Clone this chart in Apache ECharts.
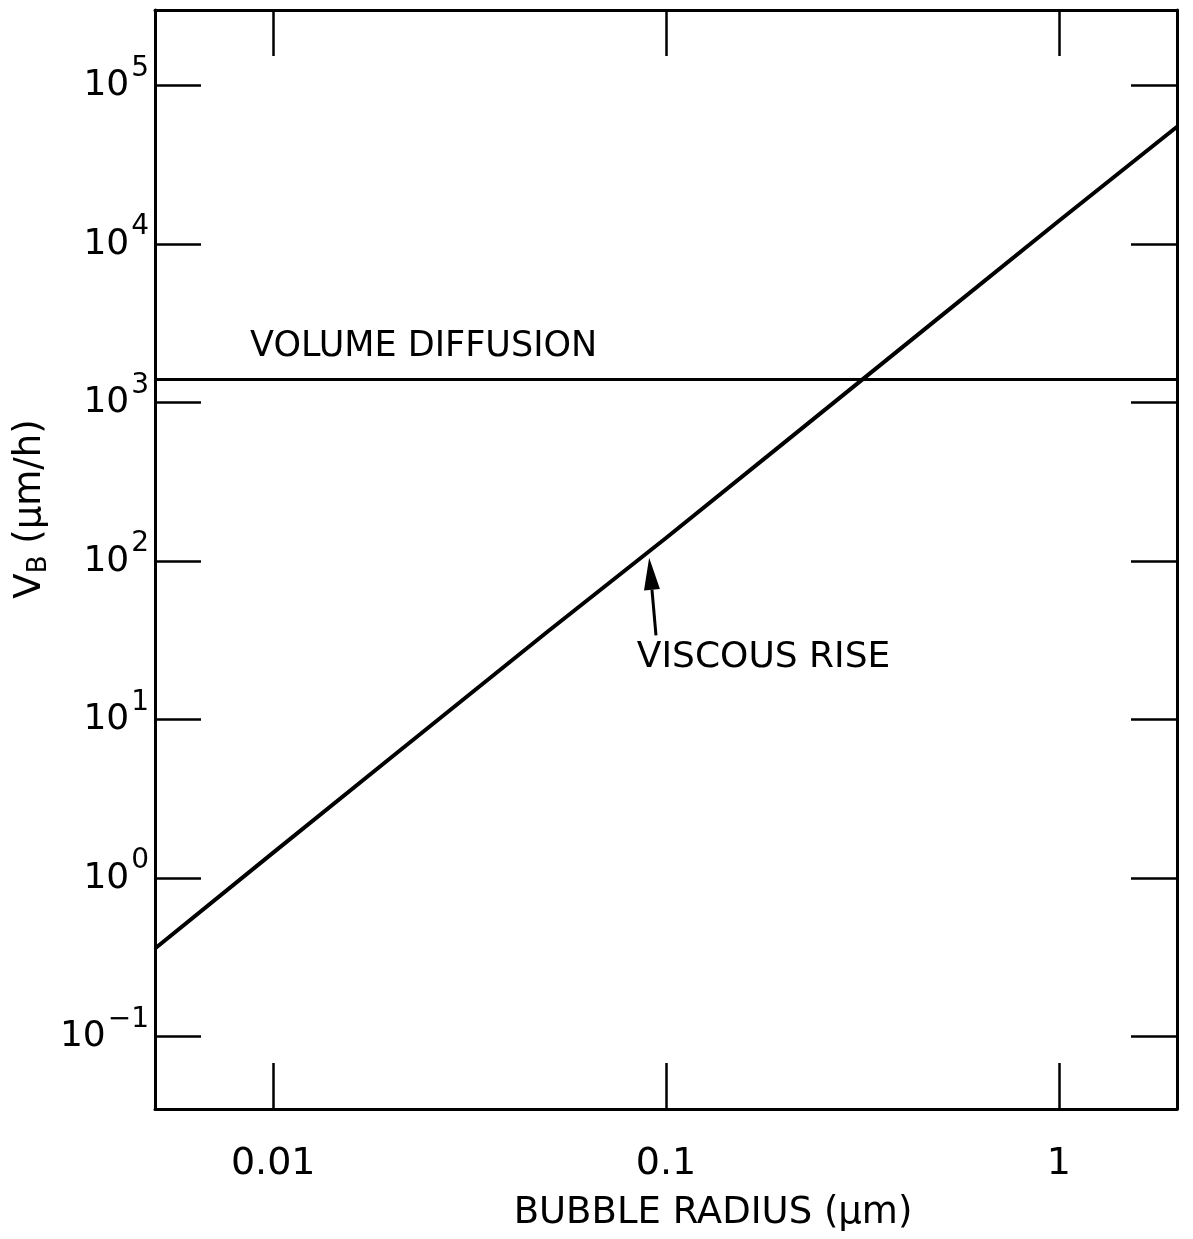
<!DOCTYPE html>
<html>
<head>
<meta charset="utf-8">
<script src="https://cdn.jsdelivr.net/npm/echarts@6/dist/echarts.min.js"></script>
<style>
  html, body { margin: 0; padding: 0; background: #fff; }
  #chart { width: 1193px; height: 1239px; }
</style>
</head>
<body>
<div id="chart"></div>
<script>
// Bubble radius (μm) and the viscous rise velocity V_B (μm/h)
const radius = [0.005, 0.01, 0.02, 0.05, 0.1, 0.2, 0.5, 1, 2];
const viscousRise = [0.36, 1.45, 5.8, 36, 140, 560, 3500, 14000, 55000];

// Volume diffusion: constant over the whole radius range
const diffusionRadius = [0.005, 2];
const volumeDiffusion = [1400, 1400];

// Axis ticks and their labels
const xTicks = [0.01, 0.1, 1];
const xTickLabels = ['0.01', '0.1', '1'];
const yTicks = [0.1, 1, 10, 100, 1000, 10000, 100000];
const yTickExponents = ['\u22121', '0', '1', '2', '3', '4', '5'];

const FONT = 'DejaVu Sans';
const INK = '#000';

function findTick(ticks, v) {
  const lv = Math.log10(v);
  for (let i = 0; i < ticks.length; i++) {
    if (Math.abs(Math.log10(ticks[i]) - lv) < 1e-6) return i;
  }
  return -1;
}

const frameLine = { show: true, onZero: false, lineStyle: { color: INK, width: 3 } };
const innerTick = { show: true, inside: true, length: 46, lineStyle: { color: INK, width: 2.5 } };

const chart = echarts.init(document.getElementById('chart'), null, { renderer: 'canvas' });

const option = {
  backgroundColor: '#fff',
  animation: false,
  grid: { left: 155, right: 16, top: 10, bottom: 130, outerBoundsMode: 'none' },
  xAxis: [
    {
      type: 'log', logBase: 10, position: 'bottom', min: 0.005, max: 2,
      axisLine: frameLine, axisTick: innerTick,
      splitLine: { show: false }, minorTick: { show: false },
      axisLabel: {
        margin: 36, color: INK, fontFamily: FONT, fontSize: 38,
        formatter: v => { const i = findTick(xTicks, v); return i < 0 ? '' : xTickLabels[i]; }
      }
    },
    {
      type: 'log', logBase: 10, position: 'top', min: 0.005, max: 2,
      axisLine: frameLine, axisTick: innerTick,
      splitLine: { show: false }, axisLabel: { show: false }
    }
  ],
  yAxis: [
    {
      type: 'log', logBase: 10, position: 'left', min: 0.035, max: 300000,
      axisLine: frameLine, axisTick: innerTick,
      splitLine: { show: false }, minorTick: { show: false },
      axisLabel: {
        margin: 6, color: INK, fontFamily: FONT,
        formatter: v => { const i = findTick(yTicks, v); return i < 0 ? '' : '{b|10}{s|' + yTickExponents[i] + '}'; },
        rich: {
          b: { fontFamily: FONT, fontSize: 36, lineHeight: 36, color: INK },
          s: { fontFamily: FONT, fontSize: 28, lineHeight: 28, color: INK, padding: [0, 0, 34, 2] }
        }
      }
    },
    {
      type: 'log', logBase: 10, position: 'right', min: 0.035, max: 300000,
      axisLine: frameLine, axisTick: innerTick,
      splitLine: { show: false }, axisLabel: { show: false }
    }
  ],
  series: [
    {
      name: 'VISCOUS RISE', type: 'line', xAxisIndex: 0, yAxisIndex: 0,
      data: radius.map((r, i) => [r, viscousRise[i]]),
      showSymbol: false, symbol: 'none', smooth: false,
      lineStyle: { color: INK, width: 4 }
    },
    {
      name: 'VOLUME DIFFUSION', type: 'line', xAxisIndex: 0, yAxisIndex: 0,
      data: diffusionRadius.map((r, i) => [r, volumeDiffusion[i]]),
      showSymbol: false, symbol: 'none',
      lineStyle: { color: INK, width: 3 }
    }
  ]
};

chart.setOption(option);

// Annotations anchored in data coordinates
const px = (x, y) => chart.convertToPixel({ xAxisIndex: 0, yAxisIndex: 0 }, [x, y]);

const tail = px(0.0943, 34);
const tip = px(0.0906, 105);
const dx = tip[0] - tail[0], dy = tip[1] - tail[1];
const len = Math.hypot(dx, dy), ux = dx / len, uy = dy / len;
const headLen = 32, headHalf = 8;
const base = [tip[0] - ux * headLen, tip[1] - uy * headLen];
const nx = -uy, ny = ux;

const volPos = px(0.00873, 2260);
const viscPos = px(0.0843, 24.5);

chart.setOption({
  graphic: [
    {
      type: 'line', silent: true,
      shape: { x1: tail[0], y1: tail[1], x2: base[0], y2: base[1] },
      style: { stroke: INK, lineWidth: 3 }
    },
    {
      type: 'polygon', silent: true,
      shape: { points: [tip, [base[0] + nx * headHalf, base[1] + ny * headHalf], [base[0] - nx * headHalf, base[1] - ny * headHalf]] },
      style: { fill: INK }
    },
    {
      type: 'text', silent: true, x: volPos[0], y: volPos[1],
      style: { text: 'VOLUME DIFFUSION', fill: INK, font: '35px "DejaVu Sans"', align: 'left', verticalAlign: 'middle' }
    },
    {
      type: 'text', silent: true, x: viscPos[0], y: viscPos[1],
      style: { text: 'VISCOUS RISE', fill: INK, font: '36px "DejaVu Sans"', align: 'left', verticalAlign: 'middle' }
    },
    {
      type: 'text', silent: true, x: 713, y: 1213,
      style: { text: 'BUBBLE RADIUS (\u03bcm)', fill: INK, font: '37px "DejaVu Sans"', align: 'center', verticalAlign: 'middle' }
    },
    {
      type: 'text', silent: true, x: 30, y: 509, rotation: Math.PI / 2,
      style: {
        text: '{v|V}{sub|B}{r| (\u03bcm/h)}', align: 'center', verticalAlign: 'middle',
        rich: {
          v: { fontFamily: FONT, fontSize: 37, lineHeight: 37, fill: INK, color: INK },
          sub: { fontFamily: FONT, fontSize: 26, lineHeight: 26, fill: INK, color: INK, padding: [18, 0, 0, 0] },
          r: { fontFamily: FONT, fontSize: 37, lineHeight: 37, fill: INK, color: INK }
        }
      }
    }
  ]
});
</script>
</body>
</html>
